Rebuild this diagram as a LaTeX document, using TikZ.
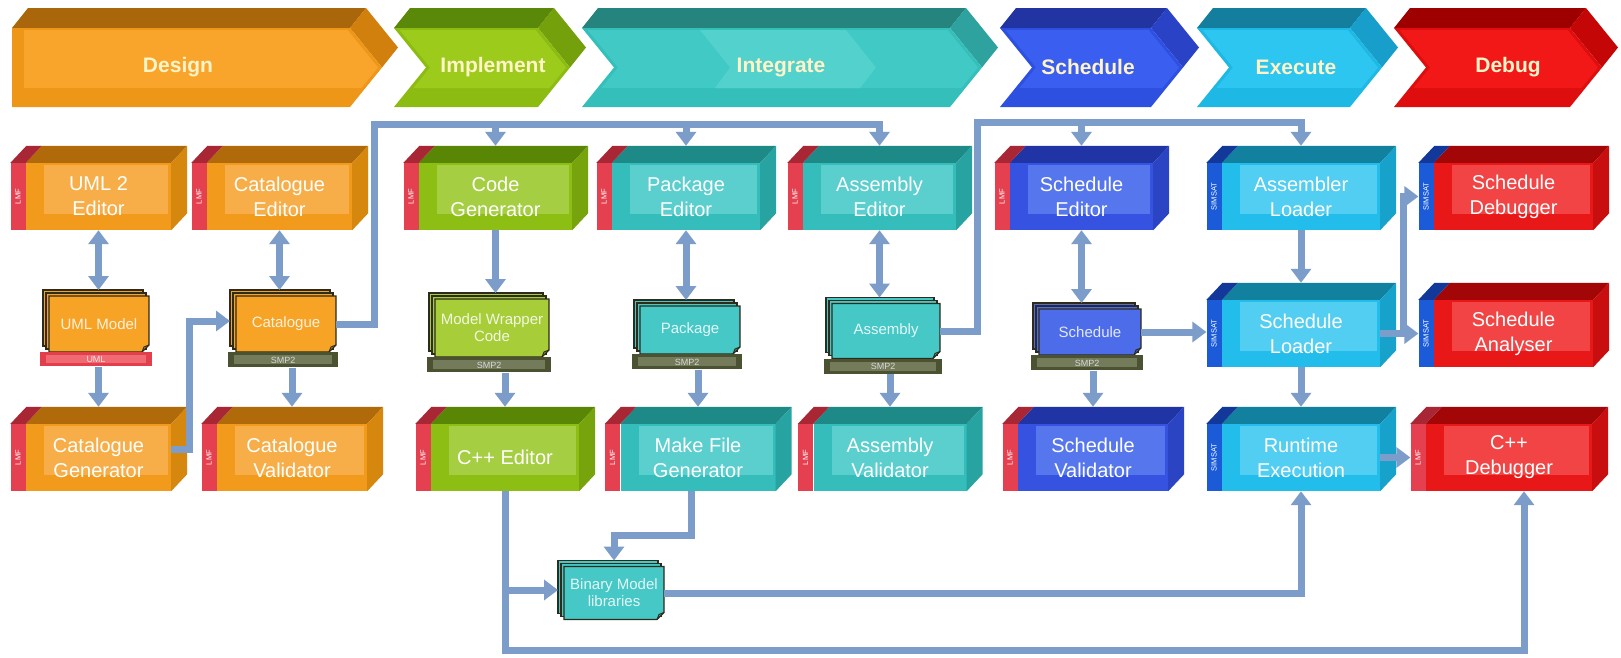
\documentclass[tikz,border=0pt]{standalone}
\usepackage{fontspec}
\setmainfont{Liberation Sans}
\usetikzlibrary{arrows.meta,calc}

% block palettes: F front, I inner panel, T top face, S side face, D document sheet
\definecolor{orF}{HTML}{F29A1C}\definecolor{orI}{HTML}{F7AE48}\definecolor{orT}{HTML}{B06A0A}\definecolor{orS}{HTML}{D6870E}\definecolor{orD}{HTML}{F6A326}
\definecolor{grF}{HTML}{8DBE14}\definecolor{grI}{HTML}{A6CE42}\definecolor{grT}{HTML}{5A8606}\definecolor{grS}{HTML}{77A30C}\definecolor{grD}{HTML}{A7CD38}
\definecolor{teF}{HTML}{34BDBB}\definecolor{teI}{HTML}{5ACFCD}\definecolor{teT}{HTML}{1E8A88}\definecolor{teS}{HTML}{27A3A1}\definecolor{teD}{HTML}{45C8C6}
\definecolor{blF}{HTML}{3553E0}\definecolor{blI}{HTML}{5676EE}\definecolor{blT}{HTML}{2134A6}\definecolor{blS}{HTML}{2A44C4}\definecolor{blD}{HTML}{4C6CEA}
\definecolor{cyF}{HTML}{22BDEB}\definecolor{cyI}{HTML}{52CEF2}\definecolor{cyT}{HTML}{12809F}\definecolor{cyS}{HTML}{17A2CB}
\definecolor{rdF}{HTML}{E81818}\definecolor{rdI}{HTML}{F24444}\definecolor{rdT}{HTML}{A30606}\definecolor{rdS}{HTML}{C80E0E}
% tool strips
\definecolor{lmfF}{HTML}{E5404F}\definecolor{lmfT}{HTML}{A92634}
\definecolor{simF}{HTML}{1C5BD8}\definecolor{simT}{HTML}{12399A}
% phase banner palettes: BI inner, BF frame, BT top, BS side
\definecolor{orBI}{HTML}{F9A52C}\definecolor{orBF}{HTML}{EE9618}\definecolor{orBT}{HTML}{A9660A}\definecolor{orBS}{HTML}{D1800E}
\definecolor{grBI}{HTML}{9CCB1C}\definecolor{grBF}{HTML}{8CBC12}\definecolor{grBT}{HTML}{5A8808}\definecolor{grBS}{HTML}{74A00C}
\definecolor{teBI}{HTML}{40C9C5}\definecolor{teBF}{HTML}{35BFBB}\definecolor{teBT}{HTML}{26847F}\definecolor{teBS}{HTML}{2DA29E}\definecolor{teBH}{HTML}{52D1CD}
\definecolor{blBI}{HTML}{3A5EF0}\definecolor{blBF}{HTML}{2E50E0}\definecolor{blBT}{HTML}{2234A2}\definecolor{blBS}{HTML}{2942C6}
\definecolor{cyBI}{HTML}{2CC6F0}\definecolor{cyBF}{HTML}{1EB8E4}\definecolor{cyBT}{HTML}{147E9E}\definecolor{cyBS}{HTML}{179ECA}
\definecolor{rdBI}{HTML}{F21818}\definecolor{rdBF}{HTML}{DE0E0E}\definecolor{rdBT}{HTML}{9E0000}\definecolor{rdBS}{HTML}{C40606}
\definecolor{bannertext}{HTML}{FFF3C8}
% format tags and connectors
\definecolor{tagD}{HTML}{4B5232}\definecolor{tagL}{HTML}{737B5A}
\definecolor{umlD}{HTML}{E23E4C}\definecolor{umlL}{HTML}{F06A74}
\definecolor{edge}{HTML}{2E2A1C}
\definecolor{wirec}{HTML}{7C9DCA}

\newcommand\boxfont{\fontsize{20}{25}\selectfont}
\newcommand\lmflabel{LMF}
\newcommand\simlabel{SIMSAT}

% 3D tool block: name, palette, x, y, width, strip palette, text
\newcommand\blockbox[7]{%
  \node[boxface=#2, minimum width=#5pt] (#1) at (#3,#4) {#7};
  \fill[#2T] (#1.north west) -- ++(16,-17) -- ([xshift=16pt,yshift=17pt]#1.north east) -- (#1.north east) -- cycle;
  \fill[#2S] (#1.north east) -- ++(16,-17) -- ([xshift=16pt,yshift=17pt]#1.south east) -- (#1.south east) -- cycle;
  \node[tagstrip=#6, anchor=east] (#1-s) at (#1.west) {};
  \fill[#6T] (#1-s.north west) -- ++(16,-17) -- ([xshift=16pt,yshift=17pt]#1-s.north east) -- (#1-s.north east) -- cycle;
  \node[striptext] (#1-l) at (#1-s.center) {\csname #6label\endcsname};
  \coordinate (#1-top) at ([yshift=17pt]#1.north);
}

% stack of documents: name, palette, x, y, width, height, text
\newcommand\docstack[7]{%
  \pgfmathsetmacro\sxa{#3-#5/2}%
  \pgfmathsetmacro\sxb{#3+#5/2}%
  \pgfmathsetmacro\sya{#4-#6/2}%
  \pgfmathsetmacro\syb{#4+#6/2}%
  \filldraw[docsheet=#2] (\sxa-6,\sya-6) rectangle (\sxb-6,\syb-6);
  \filldraw[docsheet=#2] (\sxa-3,\sya-3) rectangle (\sxb-3,\syb-3);
  \filldraw[docsheet=#2] (\sxa,\sya) -- (\sxb,\sya) -- (\sxb,\syb-7) -- (\sxb-7,\syb) -- (\sxa,\syb) -- cycle;
  \draw[docedge] (\sxb,\syb-7) -- (\sxb-5,\syb-5) -- (\sxb-7,\syb);
  \node[doctext, minimum width=#5pt, minimum height=#6pt] (#1) at (#3,#4) {#7};
  \coordinate (#1-top) at (#3,\sya-6);
  \coordinate (#1-w) at (\sxa-6,#4-3);
}

% format bar below a stack: stack name, style, width, text
\newcommand\tagunder[4]{%
  \node[#2, minimum width=#3pt, anchor=north] (#1-t) at ([xshift=-3pt]#1.south) {#4};
}

% phase chevron: palette, x0, x1, notch (0 or 1)
\newcommand\phasebar[4]{%
  \pgfmathsetmacro\pla{#2+12-6.4*#4}%
  \pgfmathsetmacro\plm{#2+12-8*#4+32*#4}%
  \pgfmathsetmacro\plb{#2+12-8*#4+15.4*#4}%
  \fill[#1BT] (#2,28) -- (#2+16,8) -- (#3+16,8) -- (#3,28) -- cycle;
  \fill[#1BS] (#3,28) -- (#3+16,8) -- (#3+48,47.5) -- (#3+32,67.5) -- cycle;
  \fill[#1BF] (#2,28) -- (#3,28) -- (#3+32,67.5) -- (#3,107) -- (#2,107) -- (#2+32*#4,67.5) -- cycle;
  \fill[#1BI] (\pla,30) -- (#3-2.4,30) -- (#3+28,67.5) -- (#3+11.4,88) -- (\plb,88) -- (\plm,67.5) -- cycle;
}

\begin{document}
\begin{tikzpicture}[x=1pt,y=-1pt,
  boxface/.style={fill=#1F, minimum height=67pt, inner sep=0pt, align=center,
    font=\boxfont, text=white,
    path picture={\fill[#1I] ([xshift=18pt,yshift=-2pt]path picture bounding box.north west)
      rectangle ([xshift=-3pt,yshift=16pt]path picture bounding box.south east);}},
  tagstrip/.style={fill=#1F, minimum width=15pt, minimum height=67pt, inner sep=0pt},
  striptext/.style={rotate=90, inner sep=0pt, text=white, font=\fontsize{7.5}{7.5}\selectfont},
  docsheet/.style={fill=#1D, draw=edge, line width=1.1pt},
  docedge/.style={draw=edge, line width=1pt},
  doctext/.style={inner sep=0pt, align=center, text=white, text opacity=0.85,
    font=\fontsize{15}{17}\selectfont},
  smptag/.style={fill=tagD, minimum height=15pt, inner sep=0pt, text=white!85!black,
    font=\fontsize{9}{9}\selectfont,
    path picture={\fill[tagL] ([xshift=6pt,yshift=-3pt]path picture bounding box.north west)
      rectangle ([xshift=-6pt,yshift=3pt]path picture bounding box.south east);}},
  umltag/.style={fill=umlD, minimum height=14pt, inner sep=0pt, text=white!90!red,
    font=\fontsize{9}{9}\selectfont,
    path picture={\fill[umlL] ([xshift=6pt,yshift=-3pt]path picture bounding box.north west)
      rectangle ([xshift=-6pt,yshift=3pt]path picture bounding box.south east);}},
  phasetext/.style={text=bannertext, font=\fontsize{21}{21}\selectfont\bfseries, inner sep=0pt},
  wire/.style={draw=wirec, line width=7pt},
  conn/.style={wire, -{Triangle[width=20pt,length=14pt]}},
  dconn/.style={wire, {Triangle[width=20pt,length=14pt]}-{Triangle[width=20pt,length=14pt]}},
]
\fill[white] (0,0) rectangle (1621,657);
\useasboundingbox (0,0) rectangle (1621,657);

% ---- phase banner ----
\phasebar{or}{12}{350}{0}
\phasebar{gr}{394}{538}{1}
\phasebar{te}{582}{950}{1}
\fill[teBH] (700,30) -- (846,30) -- (876,67.5) -- (860,88) -- (715,88) -- (730,67.5) -- cycle;
\phasebar{bl}{1000}{1151}{1}
\phasebar{cy}{1197}{1350}{1}
\phasebar{rd}{1394}{1570}{1}
\node[phasetext] (pdesign) at (178,67) {Design};
\node[phasetext] (pimpl) at (493,67) {Implement};
\node[phasetext] (pinteg) at (781,67) {Integrate};
\node[phasetext] (psched) at (1088,67) {Schedule};
\node[phasetext] (pexec) at (1296,67) {Execute};
\node[phasetext] (pdebug) at (1508,67) {Debug};

% ---- tool blocks ----
\blockbox{uml}{or}{98.5}{196.5}{145}{lmf}{UML 2\\Editor}
\blockbox{cated}{or}{279.5}{196.5}{145}{lmf}{Catalogue\\Editor}
\blockbox{codegen}{gr}{495.5}{196.5}{153}{lmf}{Code\\Generator}
\blockbox{pked}{te}{686}{196.5}{148}{lmf}{Package\\Editor}
\blockbox{asmed}{te}{879.5}{196.5}{153}{lmf}{Assembly\\Editor}
\blockbox{sched}{bl}{1081.5}{196.5}{143}{lmf}{Schedule\\Editor}
\blockbox{asml}{cy}{1301}{196.5}{158}{sim}{Assembler\\Loader}
\blockbox{sdbg}{rd}{1513.5}{196.5}{159}{sim}{Schedule\\Debugger}
\blockbox{sl}{cy}{1301}{333.5}{158}{sim}{Schedule\\Loader}
\blockbox{sa}{rd}{1513.5}{333.5}{159}{sim}{Schedule\\Analyser}
\blockbox{catgen}{or}{98.5}{457.5}{145}{lmf}{Catalogue\\Generator}
\blockbox{catval}{or}{292}{457.5}{150}{lmf}{Catalogue\\Validator}
\blockbox{cppe}{gr}{505}{457.5}{148}{lmf}{C++ Editor}
\blockbox{mkf}{te}{698}{457.5}{155}{lmf}{Make File\\Generator}
\blockbox{asmv}{te}{890}{457.5}{153}{lmf}{Assembly\\Validator}
\blockbox{schv}{bl}{1093}{457.5}{150}{lmf}{Schedule\\Validator}
\blockbox{rt}{cy}{1301}{457.5}{158}{sim}{Runtime\\Execution}
\blockbox{cppd}{rd}{1509}{457.5}{166}{lmf}{C++\\Debugger}

% ---- model documents ----
\docstack{umlm}{or}{99}{324}{100}{56}{UML Model}
\tagunder{umlm}{umltag}{112}{UML}
\docstack{catm}{or}{286}{324}{100}{56}{Catalogue}
\tagunder{catm}{smptag}{110}{SMP2}
\docstack{mwc}{gr}{492}{328}{114}{58}{Model Wrapper\\Code}
\tagunder{mwc}{smptag}{124}{SMP2}
\docstack{pkg}{te}{690}{330}{100}{48}{Package}
\tagunder{pkg}{smptag}{110}{SMP2}
\docstack{asm}{te}{886}{331}{108}{55}{Assembly}
\tagunder{asm}{smptag}{118}{SMP2}
\docstack{schm}{bl}{1090}{332}{102}{46}{Schedule}
\tagunder{schm}{smptag}{112}{SMP2}
\docstack{bin}{te}{614}{593}{100}{53}{Binary Model\\libraries}

% ---- routing points ----
\coordinate (busA) at (374,124);
\coordinate (busB) at (977,122);
\coordinate (catjog) at (189,0);
\coordinate (brk) at (1403,0);
\coordinate (low) at (0,650);
\coordinate (mkjog) at (0,535);
\coordinate (mkout) at ([xshift=-7pt]mkf.south);
\coordinate (catout) at ([yshift=8pt]catgen.east);
\coordinate (dbgin) at ([xshift=15pt]cppd.south);

% ---- connectors ----
\draw[dconn] (uml.south) -- (uml.south |- umlm-top);
\draw[conn] (catgen.north |- umlm-t.south) -- (catgen-top);
\draw[dconn] (cated.south) -- (cated.south |- catm-top);
\draw[conn] (catout) -- (catout -| catjog) |- (catm-w);
\draw[conn] (catm.east) -| (busA) -| (asmed-top);
\draw[conn] (codegen-top |- busA) -- (codegen-top);
\draw[conn] (pked-top |- busA) -- (pked-top);
\draw[conn] (catval.north |- catm-t.south) -- (catval-top);
\draw[conn] (codegen.south) -- (codegen.south |- mwc-top);
\draw[conn] (cppe.north |- mwc-t.south) -- (cppe-top);
\draw[dconn] (pked.south) -- (pked.south |- pkg-top);
\draw[conn] (mkf.north |- pkg-t.south) -- (mkf-top);
\draw[dconn] (asmed.south) -- (asmed.south |- asm-top);
\draw[conn] (asmv.north |- asm-t.south) -- (asmv-top);
\draw[conn] (asm.east) -| (busB) -| (asml-top);
\draw[conn] (sched-top |- busB) -- (sched-top);
\draw[dconn] (sched.south) -- (sched.south |- schm-top);
\draw[conn] (schv.north |- schm-t.south) -- (schv-top);
\draw[conn] (schm.east) -- (schm.east -| sl-s.west);
\draw[conn] (asml.south) -- (sl-top);
\draw[conn] (sl.south) -- (rt-top);
\draw[conn] (sl.east) -- (sa-s.west);
\draw[conn] (sl.east -| brk) |- (sdbg-s.west);
\draw[conn] (rt.east) -- (cppd-s.west);
\draw[conn] (cppe.south) -- (cppe.south |- low) -| (dbgin);
\draw[conn] (cppe.south |- bin-w) -- (bin-w);
\draw[conn] (mkout) -- (mkout |- mkjog) -| (bin-top);
\draw[conn] (bin.east) -| (rt.south);
\end{tikzpicture}
\end{document}
